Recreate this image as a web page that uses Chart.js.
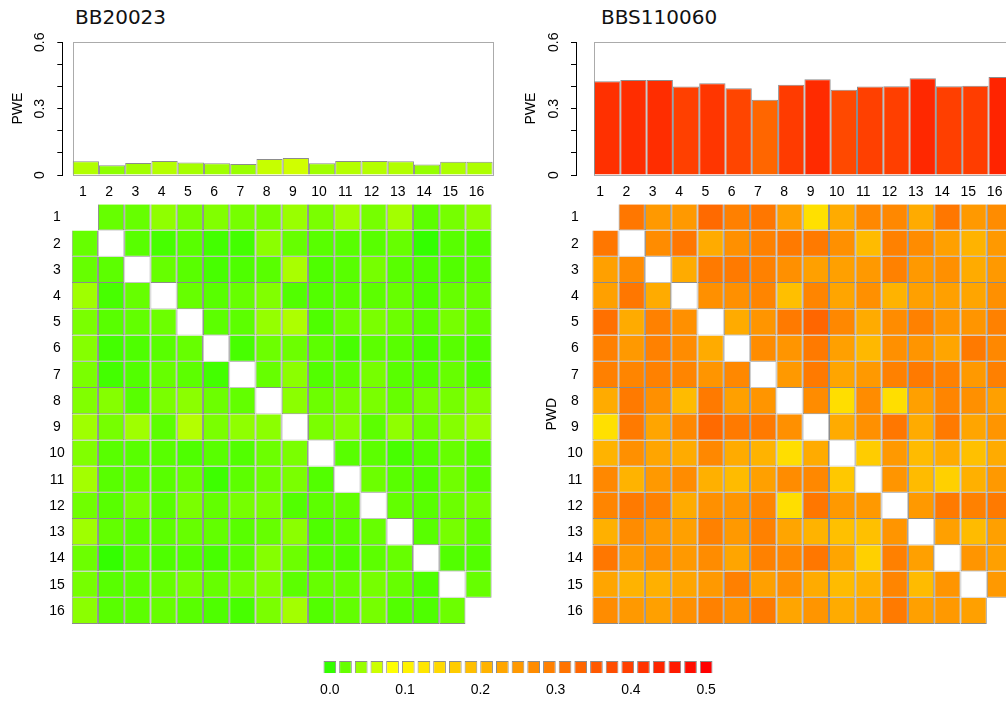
<!DOCTYPE html>
<html>
<head>
<meta charset="utf-8">
<script src="https://cdn.jsdelivr.net/npm/chart.js@4.4.1/dist/chart.umd.min.js"></script>
<style>
  html, body { margin: 0; padding: 0; background: #fff; width: 1006px; height: 701px; overflow: hidden; position: relative; }
  canvas { position: absolute; }
  .title { position: absolute; font-family: "DejaVu Sans", sans-serif; font-size: 20px; line-height: 20px; color: #111; white-space: nowrap; }
</style>
</head>
<body>
<div class="title" style="left:75px; top:7px;">BB20023</div>
<div class="title" style="left:601px; top:7px;">BBS110060</div>
<script>
// Positions along the sequence (shared by the PWE bars and the PWD matrix)
const positionNumbers = [1, 2, 3, 4, 5, 6, 7, 8, 9, 10, 11, 12, 13, 14, 15, 16];
const positionLabels = ['1', '2', '3', '4', '5', '6', '7', '8', '9', '10', '11', '12', '13', '14', '15', '16'];

// PWE per position
const pweBB20023 = [0.062, 0.044, 0.054, 0.063, 0.056, 0.053, 0.050, 0.072, 0.077, 0.053, 0.063, 0.063, 0.062, 0.048, 0.060, 0.060];
const pweBBS110060 = [0.424, 0.430, 0.430, 0.400, 0.415, 0.392, 0.340, 0.408, 0.433, 0.386, 0.400, 0.401, 0.437, 0.401, 0.404, 0.443];
const pweTicks = [0, 0.1, 0.2, 0.3, 0.4, 0.5, 0.6];
const pweLabelValues = [0, 0.3, 0.6];
const pweLabelTexts = ['0', '0.3', '0.6'];

// PWD matrices (row = position i, column = position j); null on the diagonal
const pwdBB20023 = [
  [null, .025, .025, .045, .033, .038, .033, .033, .050, .035, .053, .033, .055, .020, .033, .045],
  [.025, null, .018, .010, .018, .008, .008, .043, .025, .018, .018, .018, .025, .000, .018, .015],
  [.025, .020, null, .025, .018, .010, .013, .018, .058, .013, .018, .033, .018, .013, .015, .018],
  [.053, .010, .025, null, .025, .018, .025, .038, .015, .015, .018, .020, .025, .013, .025, .025],
  [.035, .018, .023, .028, null, .020, .020, .048, .060, .013, .028, .035, .028, .018, .033, .023],
  [.040, .008, .013, .018, .025, null, .010, .028, .028, .020, .010, .020, .018, .010, .018, .013],
  [.035, .008, .015, .025, .020, .008, null, .025, .043, .015, .020, .033, .018, .015, .025, .013],
  [.038, .040, .018, .035, .043, .028, .023, null, .043, .028, .033, .035, .025, .033, .033, .040],
  [.053, .033, .053, .020, .063, .035, .045, .043, null, .035, .040, .020, .045, .028, .040, .050],
  [.038, .018, .018, .018, .013, .018, .015, .028, .035, null, .018, .020, .010, .015, .025, .018],
  [.055, .018, .020, .018, .025, .005, .020, .028, .035, .015, null, .028, .018, .013, .030, .018],
  [.030, .018, .033, .018, .035, .023, .033, .035, .015, .020, .023, null, .023, .018, .028, .033],
  [.053, .023, .018, .020, .025, .023, .018, .025, .043, .013, .018, .025, null, .018, .033, .020],
  [.028, .000, .018, .013, .015, .010, .018, .040, .028, .015, .013, .020, .025, null, .015, .015],
  [.033, .018, .020, .025, .033, .025, .033, .038, .020, .025, .025, .033, .025, .013, null, .025],
  [.043, .018, .020, .025, .018, .013, .010, .035, .055, .015, .023, .033, .015, .013, .028, null]
];
const pwdBBS110060 = [
  [null, .314, .260, .260, .334, .300, .314, .249, .149, .233, .287, .287, .233, .314, .260, .280],
  [.314, null, .280, .314, .233, .274, .299, .309, .309, .274, .206, .299, .280, .250, .220, .260],
  [.249, .280, null, .233, .309, .309, .299, .274, .249, .249, .260, .299, .260, .274, .233, .260],
  [.250, .314, .233, null, .274, .274, .292, .200, .292, .241, .274, .220, .250, .250, .241, .274],
  [.324, .233, .299, .274, null, .233, .266, .309, .340, .287, .233, .280, .299, .266, .266, .299],
  [.300, .260, .299, .280, .233, null, .280, .266, .309, .249, .211, .274, .266, .241, .309, .287],
  [.300, .292, .299, .292, .266, .287, null, .260, .309, .241, .260, .299, .309, .299, .260, .300],
  [.233, .309, .274, .206, .309, .250, .266, null, .280, .153, .280, .153, .249, .292, .274, .250],
  [.149, .309, .241, .287, .334, .309, .309, .274, null, .233, .274, .314, .233, .309, .241, .266],
  [.220, .274, .241, .233, .287, .233, .220, .153, .233, null, .180, .260, .206, .233, .199, .233],
  [.287, .220, .260, .280, .224, .206, .250, .280, .287, .186, null, .266, .206, .174, .224, .260],
  [.292, .309, .299, .233, .274, .266, .292, .153, .314, .260, .260, null, .260, .309, .299, .309],
  [.224, .280, .260, .250, .299, .260, .299, .241, .220, .199, .199, .266, null, .250, .206, .250],
  [.314, .260, .274, .260, .280, .241, .299, .287, .314, .241, .174, .300, .250, null, .266, .250],
  [.241, .220, .224, .241, .260, .300, .249, .274, .233, .206, .224, .292, .206, .266, null, .260],
  [.280, .260, .249, .274, .299, .274, .309, .241, .266, .233, .250, .309, .249, .260, .249, null]
];

// Colour scale: palette stops and the values they stand for
const paletteStops = ['#33FF00', '#66FF00', '#99FF00', '#CCFF00', '#FFFF00', '#FFF200', '#FFE600', '#FFD900', '#FFCC00',
                      '#FFBF00', '#FFB300', '#FFA600', '#FF9900', '#FF8C00', '#FF8000', '#FF7300', '#FF6600', '#FF5900',
                      '#FF4D00', '#FF4000', '#FF3300', '#FF2600', '#FF1A00', '#FF0D00', '#FF0000'];
const paletteStopValues = [0, 0.025, 0.05, 0.075, 0.1, 0.12, 0.14, 0.16, 0.18, 0.2, 0.22, 0.24, 0.26,
                           0.28, 0.3, 0.32, 0.34, 0.36, 0.38, 0.4, 0.42, 0.44, 0.46, 0.48, 0.5];

// Colour key: evenly spaced swatches along 0 .. 0.5
const keyPositions = [0, 0.0208, 0.0417, 0.0625, 0.0833, 0.1042, 0.125, 0.1458, 0.1667, 0.1875, 0.2083, 0.2292, 0.25,
                      0.2708, 0.2917, 0.3125, 0.3333, 0.3542, 0.375, 0.3958, 0.4167, 0.4375, 0.4583, 0.4792, 0.5];
const keyTickValues = [0, 0.1, 0.2, 0.3, 0.4, 0.5];
const keyTickLabels = ['0.0', '0.1', '0.2', '0.3', '0.4', '0.5'];

Chart.defaults.font.family = '"Liberation Sans", Arial, sans-serif';
Chart.defaults.font.size = 14;
Chart.defaults.color = '#000';
Chart.defaults.animation = false;
Chart.defaults.plugins.legend.display = false;
Chart.defaults.plugins.tooltip.enabled = false;

const CELL_BORDER = '#8c8c8c';
const DIAG_BORDER = '#c4c4c4';

function hexRgb(h) {
  const n = parseInt(h.slice(1), 16);
  return [(n >> 16) & 255, (n >> 8) & 255, n & 255];
}
// piecewise-linear lookup between the palette stops
function valueColor(v) {
  const sv = paletteStopValues;
  let i = 0;
  while (i < sv.length - 2 && v > sv[i + 1]) i++;
  const f = Math.max(0, Math.min(1, (v - sv[i]) / (sv[i + 1] - sv[i])));
  const a = hexRgb(paletteStops[i]), b = hexRgb(paletteStops[i + 1]);
  const c = a.map((x, k) => Math.round(x + (b[k] - x) * f));
  return `rgb(${c[0]},${c[1]},${c[2]})`;
}

function makeCanvas(left, top, w, h) {
  const cv = document.createElement('canvas');
  cv.width = w; cv.height = h;
  cv.style.left = left + 'px'; cv.style.top = top + 'px';
  cv.style.width = w + 'px'; cv.style.height = h + 'px';
  document.body.appendChild(cv);
  return cv;
}

// fixed-size scale box without the automatic label overhang
function fixSize(prop, size) {
  return s => {
    s[prop] = size;
    s.paddingTop = 0; s.paddingBottom = 0; s.paddingLeft = 0; s.paddingRight = 0;
  };
}

// grey frame around the bar plot region
const plotFrame = {
  id: 'plotFrame',
  beforeDatasetsDraw(chart) {
    const { ctx, scales: { x, y } } = chart;
    const l = x.getPixelForValue(0.5), r = x.getPixelForValue(16.5);
    const t = y.getPixelForValue(0.6), b = y.getPixelForValue(0);
    ctx.save();
    ctx.strokeStyle = '#ababab';
    ctx.lineWidth = 1;
    ctx.strokeRect(Math.round(l) + 0.5, Math.round(t) + 0.5, Math.round(r - l), Math.round(b - t));
    ctx.restore();
  }
};
// rotated labels on the PWE axis
const yTickText = {
  id: 'yTickText',
  afterDraw(chart, args, opts) {
    const { ctx, scales: { y } } = chart;
    ctx.save();
    ctx.font = '14px "Liberation Sans", Arial, sans-serif';
    ctx.fillStyle = '#000';
    ctx.textAlign = 'center';
    ctx.textBaseline = 'middle';
    opts.values.forEach((v, i) => {
      ctx.save();
      ctx.translate(y.right - opts.gap, y.getPixelForValue(v));
      ctx.rotate(-Math.PI / 2);
      ctx.fillText(opts.labels[i], 0, 0);
      ctx.restore();
    });
    ctx.restore();
  }
};

const W = 520;

function pwePanel(values, g) {
  const H = 205, plotTop = 42.3, plotBottom = 175;
  const cv = makeCanvas(g.canvasLeft, 0, W, H);
  const axisRel = g.axisX - g.canvasLeft;
  const boxRight = g.boxLeft + positionNumbers.length * g.unit - g.canvasLeft;
  const xMin = 0.5 - (g.boxLeft - g.axisX) / g.unit;
  new Chart(cv, {
    type: 'bar',
    data: {
      datasets: [{
        data: values.map((v, i) => ({ x: positionNumbers[i], y: v })),
        backgroundColor: values.map(valueColor),
        borderColor: CELL_BORDER,
        borderWidth: 1,
        barPercentage: 1,
        categoryPercentage: 1,
        inflateAmount: 0
      }]
    },
    options: {
      responsive: false,
      devicePixelRatio: 1,
      layout: { padding: { left: 0, right: W - boxRight, top: plotTop, bottom: 0 } },
      scales: {
        x: {
          type: 'linear', min: xMin, max: 16.5, offset: false,
          grid: { display: false, drawTicks: false, offset: false },
          border: { display: false },
          afterBuildTicks: s => { s.ticks = positionNumbers.map(v => ({ value: v })); },
          ticks: { padding: 9, labelOffset: g.labelShift, autoSkip: false, maxRotation: 0,
                   callback: (v, i) => positionLabels[i] },
          afterFit: fixSize('height', H - plotBottom)
        },
        y: {
          min: 0, max: 0.6,
          afterBuildTicks: s => { s.ticks = pweTicks.map(v => ({ value: v })); },
          ticks: { display: false },
          grid: { drawOnChartArea: false, drawTicks: true, tickLength: 5, color: '#000' },
          border: { display: true, color: '#000' },
          title: { display: true, text: 'PWE', font: { size: 14 }, padding: { top: g.pweTitleX - g.canvasLeft - 8.4, bottom: 0 } },
          afterFit: fixSize('width', axisRel)
        }
      },
      plugins: { yTickText: { values: pweLabelValues, labels: pweLabelTexts, gap: g.axisX - g.yTickTextX } }
    },
    plugins: [plotFrame, yTickText]
  });
}

function pwdPanel(matrix, g) {
  const top = 195, H = 440, gridTop = 204.3, gridBottom = 624;
  const n = matrix.length;
  const cv = makeCanvas(g.canvasLeft, top, W, H);
  const left = g.heatLeft - g.canvasLeft;
  const right = left + n * g.unit;
  const datasets = matrix.map((row, r) => {
    const cells = [], fills = [], lines = [];
    row.forEach((v, c) => {
      const diag = r === c;
      if (diag && (r === 0 || r === n - 1)) return; // corner positions have no pair on one side
      cells.push({ x: positionNumbers[c], y: [positionNumbers[r] - 0.5, positionNumbers[r] + 0.5] });
      fills.push(diag ? '#ffffff' : valueColor(v));
      lines.push(diag ? DIAG_BORDER : CELL_BORDER);
    });
    return {
      data: cells, backgroundColor: fills, borderColor: lines,
      borderWidth: 1, barPercentage: 1, categoryPercentage: 1, grouped: false, inflateAmount: 0
    };
  });
  new Chart(cv, {
    type: 'bar',
    data: { datasets },
    options: {
      responsive: false,
      devicePixelRatio: 1,
      layout: { padding: { left: 0, right: W - right, top: gridTop - top, bottom: top + H - gridBottom } },
      scales: {
        x: { type: 'linear', min: 0.5, max: 16.5, display: false, offset: false, grid: { offset: false } },
        y: {
          type: 'linear', min: 0.5, max: 16.5, reverse: true,
          afterBuildTicks: s => { s.ticks = positionNumbers.map(v => ({ value: v })); },
          ticks: { crossAlign: 'center', padding: g.heatLeft - g.rowLabelX - 7.8, autoSkip: false,
                   callback: (v, i) => positionLabels[i] },
          grid: { display: false, drawTicks: false },
          border: { display: false },
          title: { display: g.pwdTitleX !== null, text: 'PWD', font: { size: 14 },
                   padding: { top: (g.pwdTitleX || 0) - g.canvasLeft - 8.4, bottom: 0 } },
          afterFit: fixSize('width', left)
        }
      }
    }
  });
}

function colourKey() {
  const cv = makeCanvas(300, 650, 430, 50);
  const half = (keyPositions[1] - keyPositions[0]) / 2;
  new Chart(cv, {
    type: 'bar',
    data: {
      datasets: [{
        data: keyPositions.map(v => ({ x: v, y: 1 })),
        backgroundColor: paletteStops,
        borderColor: CELL_BORDER,
        borderWidth: 1,
        barPercentage: 0.81,
        categoryPercentage: 1,
        inflateAmount: 0
      }]
    },
    options: {
      responsive: false,
      devicePixelRatio: 1,
      layout: { padding: { left: 22, right: 16, top: 11, bottom: 0 } },
      scales: {
        x: {
          type: 'linear', min: keyPositions[0] - half, max: keyPositions[keyPositions.length - 1] + half, offset: false,
          grid: { display: false, drawTicks: false, offset: false },
          border: { display: false },
          afterBuildTicks: s => { s.ticks = keyTickValues.map(v => ({ value: v })); },
          ticks: { padding: 8, font: { size: 14 }, autoSkip: false, maxRotation: 0, callback: (v, i) => keyTickLabels[i] },
          afterFit: fixSize('height', 26.7)
        },
        y: { display: false, min: 0, max: 1 }
      }
    }
  });
}

const leftPanel = { canvasLeft: 0, axisX: 62.3, boxLeft: 72.7, unit: 26.25, heatLeft: 71.7, rowLabelX: 57,
                    pweTitleX: 18.5, yTickTextX: 40.5, pwdTitleX: null, labelShift: -3 };
const rightPanel = { canvasLeft: 510, axisX: 576, boxLeft: 594, unit: 26.3, heatLeft: 592.3, rowLabelX: 575,
                     pweTitleX: 531.5, yTickTextX: 554, pwdTitleX: 552, labelShift: -7 };

pwePanel(pweBB20023, leftPanel);
pwdPanel(pwdBB20023, leftPanel);
pwePanel(pweBBS110060, rightPanel);
pwdPanel(pwdBBS110060, rightPanel);
colourKey();
</script>
</body>
</html>
